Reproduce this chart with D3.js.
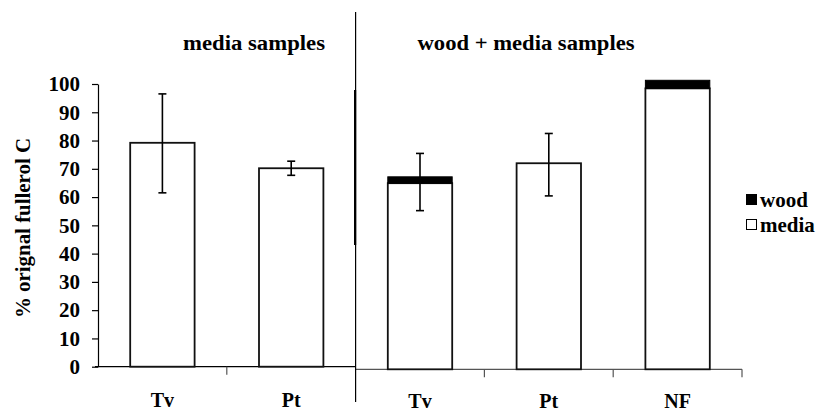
<!DOCTYPE html>
<html>
<head>
<meta charset="utf-8">
<script src="https://cdn.jsdelivr.net/npm/d3@7"></script>
<style>
  body { margin: 0; background: #fff; }
  svg text { font-family: "Liberation Serif", "Times New Roman", Times, "DejaVu Serif", serif !important; font-weight: bold; fill: #000; }
</style>
</head>
<body>
<div id="canvas"></div>
<script>
"use strict";

/* Data */
let barKeys = ["m-Tv", "m-Pt", "wm-Tv", "wm-Pt", "wm-NF"];
let barLabels = ["Tv", "Pt", "Tv", "Pt", "NF"];
let barPanel = [0, 0, 1, 1, 1]; // 0 = media samples, 1 = wood + media samples
let mediaValues = [79.2, 70.2, 64.4, 71.3, 97.2];
let woodValues = [0, 0, 2.2, 0, 2.8];
let errMid = [79.0, 70.2, 64.8, 70.8, null];
let errHalf = [17.5, 2.5, 9.9, 10.8, null];
let yTicks = [0, 10, 20, 30, 40, 50, 60, 70, 80, 90, 100];
let panelTitles = ["media samples", "wood + media samples"];
let legendLabels = ["wood", "media"];

/* Drawing config */
let svgWidth = 820;
let svgHeight = 412;
let serif = "'Liberation Serif', 'Times New Roman', Times, 'DejaVu Serif', serif";

let svg = d3.select("#canvas")
  .append("svg")
  .attr("width", svgWidth)
  .attr("height", svgHeight)
  .attr("font-family", serif);

let xScale = d3.scaleBand()
  .domain(barKeys)
  .range([98, 742])
  .paddingInner(0.5)
  .paddingOuter(0.25);

// the two panels were pasted side by side, so each has its own y scale
let yScales = [
  d3.scaleLinear().domain([0, 100]).range([366.7, 84]),
  d3.scaleLinear().domain([0, 100]).range([369.3, 80.3])
];

let step = xScale.step();
let x0 = 98;
let dividerX = x0 + step * 2;

/* Y axis */
let yAxis = d3.axisLeft(yScales[0])
  .tickValues(yTicks)
  .tickSize(6)
  .tickSizeOuter(0)
  .tickPadding(12);

let yAxisG = svg.append("g")
  .attr("transform", "translate(" + x0 + ",0)")
  .call(yAxis)
  .attr("font-family", serif);
yAxisG.select(".domain").attr("stroke", "#000").attr("stroke-width", 1.2);
yAxisG.selectAll(".tick line").attr("stroke", "#000").attr("stroke-width", 1.2);
yAxisG.selectAll(".tick text")
  .attr("font-weight", "bold")
  .attr("font-size", "21px")
  .attr("fill", "#000");

/* X axis lines (one per panel) */
svg.append("line")
  .attr("x1", x0 - 3).attr("x2", dividerX)
  .attr("y1", yScales[0](0)).attr("y2", yScales[0](0))
  .attr("stroke", "#000").attr("stroke-width", 1.2);
svg.append("line")
  .attr("x1", dividerX).attr("x2", x0 + step * 5)
  .attr("y1", yScales[1](0)).attr("y2", yScales[1](0))
  .attr("stroke", "#555").attr("stroke-width", 1.2);

// category separator ticks
let sepTicks = [1, 3, 4, 5];
sepTicks.forEach(function (i) {
  let p = i < 2 ? 0 : 1;
  svg.append("line")
    .attr("x1", x0 + step * i).attr("x2", x0 + step * i)
    .attr("y1", yScales[p](0)).attr("y2", yScales[p](0) + 8)
    .attr("stroke", "#555").attr("stroke-width", 1.2);
});

/* Divider between the panels */
svg.append("line")
  .attr("x1", dividerX).attr("x2", dividerX)
  .attr("y1", 12).attr("y2", 402)
  .attr("stroke", "#000").attr("stroke-width", 1.2);
svg.append("line")
  .attr("x1", dividerX - 0.5).attr("x2", dividerX - 0.5)
  .attr("y1", 90).attr("y2", 245)
  .attr("stroke", "#000").attr("stroke-width", 2.2);

/* Bars: media part (white) */
svg.selectAll("rect.media")
  .data(barKeys)
  .enter()
  .append("rect")
  .attr("class", "media")
  .attr("x", function (d) { return xScale(d); })
  .attr("width", xScale.bandwidth())
  .attr("y", function (d, i) { return yScales[barPanel[i]](mediaValues[i]); })
  .attr("height", function (d, i) {
    let y = yScales[barPanel[i]];
    return y(0) - y(mediaValues[i]);
  })
  .attr("fill", "#fff")
  .attr("stroke", "#111")
  .attr("stroke-width", 1.8);

/* Bars: wood part (black) stacked on top */
svg.selectAll("rect.wood")
  .data(barKeys.filter(function (d, i) { return woodValues[i] > 0; }))
  .enter()
  .append("rect")
  .attr("class", "wood")
  .attr("x", function (d) { return xScale(d); })
  .attr("width", xScale.bandwidth())
  .attr("y", function (d) {
    let i = barKeys.indexOf(d);
    return yScales[barPanel[i]](mediaValues[i] + woodValues[i]);
  })
  .attr("height", function (d) {
    let i = barKeys.indexOf(d);
    let y = yScales[barPanel[i]];
    return y(mediaValues[i]) - y(mediaValues[i] + woodValues[i]);
  })
  .attr("fill", "#000")
  .attr("stroke", "#000")
  .attr("stroke-width", 1);

/* Error bars */
let capHalf = 4;
barKeys.forEach(function (d, i) {
  if (errMid[i] === null) return;
  let y = yScales[barPanel[i]];
  let cx = xScale(d) + xScale.bandwidth() / 2;
  let g = svg.append("g").attr("stroke", "#000").attr("stroke-width", 1.6);
  g.append("line")
    .attr("x1", cx).attr("x2", cx)
    .attr("y1", y(errMid[i] + errHalf[i])).attr("y2", y(errMid[i] - errHalf[i]));
  [errMid[i] + errHalf[i], errMid[i] - errHalf[i]].forEach(function (v) {
    g.append("line")
      .attr("x1", cx - capHalf).attr("x2", cx + capHalf)
      .attr("y1", y(v)).attr("y2", y(v));
  });
});

/* Category labels */
svg.selectAll("text.cat")
  .data(barKeys)
  .enter()
  .append("text")
  .attr("class", "cat")
  .attr("x", function (d, i) { return xScale(d) + xScale.bandwidth() / 2; })
  .attr("y", function (d, i) { return barPanel[i] === 0 ? 407 : 408; })
  .attr("text-anchor", "middle")
  .attr("font-size", "20px")
  .text(function (d, i) { return barLabels[i]; });

/* Panel titles */
let titleX = [254, 526];
let titleW = [142, 217];
panelTitles.forEach(function (t, i) {
  svg.append("text")
    .attr("x", titleX[i] - titleW[i] / 2)
    .attr("y", 50)
    .attr("font-size", "20px")
    .attr("textLength", titleW[i])
    .attr("lengthAdjust", "spacingAndGlyphs")
    .text(t);
});

/* Y axis title */
svg.append("text")
  .attr("transform", "translate(30,228) rotate(-90)")
  .attr("text-anchor", "middle")
  .attr("font-size", "20px")
  .attr("textLength", 180)
  .attr("lengthAdjust", "spacingAndGlyphs")
  .text("% orignal fullerol C");

/* Legend */
let legendFill = ["#000", "#fff"];
legendLabels.forEach(function (t, i) {
  svg.append("rect")
    .attr("x", 746.5)
    .attr("y", 194.5 + i * 25)
    .attr("width", 10)
    .attr("height", 10)
    .attr("fill", legendFill[i])
    .attr("stroke", "#000")
    .attr("stroke-width", 1);
  svg.append("text")
    .attr("x", 760)
    .attr("y", 207 + i * 25)
    .attr("font-size", "21px")
    .text(t);
});
</script>
</body>
</html>
